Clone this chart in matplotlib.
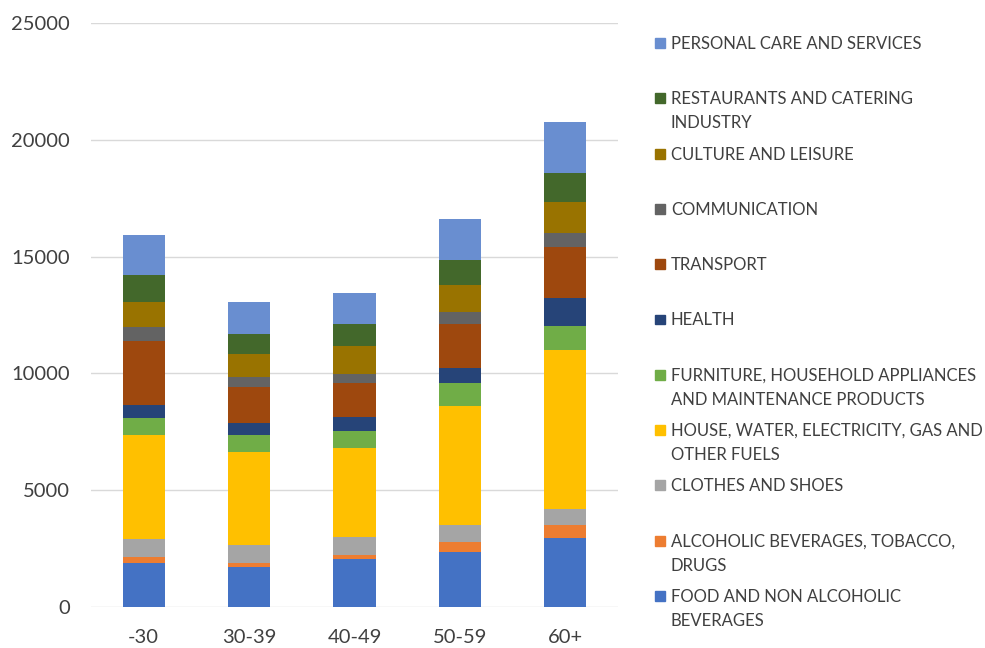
import matplotlib

matplotlib.use("Agg")

import matplotlib.pyplot as plt
import numpy as np
from matplotlib.patches import Rectangle

plt.rcParams["font.family"] = ["Lato", "DejaVu Sans"]

AGE_GROUPS = ["-30", "30-39", "40-49", "50-59", "60+"]

# bottom-to-top stacking order
SERIES = [
    "FOOD AND NON ALCOHOLIC\nBEVERAGES",
    "ALCOHOLIC BEVERAGES, TOBACCO,\nDRUGS",
    "CLOTHES AND SHOES",
    "HOUSE, WATER, ELECTRICITY, GAS AND\nOTHER FUELS",
    "FURNITURE, HOUSEHOLD APPLIANCES\nAND MAINTENANCE PRODUCTS",
    "HEALTH",
    "TRANSPORT",
    "COMMUNICATION",
    "CULTURE AND LEISURE",
    "RESTAURANTS AND CATERING\nINDUSTRY",
    "PERSONAL CARE AND SERVICES",
]
COLORS = ["#4472C4", "#ED7D31", "#A5A5A5", "#FFC000", "#70AD47", "#264478",
          "#9E480E", "#636363", "#997300", "#43682B", "#698ED0"]

food = [1890, 1720, 2060, 2360, 2945]
alcohol = [240, 170, 170, 415, 545]
clothes = [760, 770, 770, 755, 715]
house = [4460, 3980, 3810, 5070, 6805]
furniture = [760, 715, 710, 1000, 1040]
health = [540, 515, 600, 640, 1185]
transport = [2740, 1540, 1455, 1865, 2185]
communication = [600, 445, 405, 530, 610]
culture = [1055, 955, 1180, 1170, 1300]
restaurants = [1170, 885, 955, 1070, 1260]
personal = [1710, 1355, 1330, 1715, 2165]

VALUES = [food, alcohol, clothes, house, furniture, health, transport,
          communication, culture, restaurants, personal]

W, H = 985, 648
fig = plt.figure(figsize=(W / 100, H / 100), dpi=100)
ax = fig.add_axes([91 / W, 1 - 607 / H, (618 - 91) / W, (607 - 23) / H])

x = np.arange(len(AGE_GROUPS))
bottom = np.zeros(len(AGE_GROUPS))
for vals, color in zip(VALUES, COLORS):
    ax.bar(x, vals, width=0.4, bottom=bottom, color=color, zorder=3)
    bottom += np.array(vals)

ax.set_xlim(-0.5, len(AGE_GROUPS) - 0.5)
ax.set_ylim(0, 25000)
ax.set_yticks(range(0, 25001, 5000))
ax.set_xticks(x)
ax.set_xticklabels(AGE_GROUPS)
ax.tick_params(length=0, labelsize=14.5, colors="#404040")
ax.tick_params(axis="y", pad=15)
ax.tick_params(axis="x", pad=16)
ax.grid(axis="y", color="#D9D9D9", linewidth=1, zorder=0)
for s in ax.spines.values():
    s.set_visible(False)

# legend, drawn by hand so the marker lines up with the first text line
for i, (name, color) in enumerate(zip(SERIES[::-1], COLORS[::-1])):
    y_px = 43 + i * 55.3
    fig.patches.append(Rectangle((655 / W, 1 - (y_px + 5) / H), 10 / W, 10 / H,
                                 transform=fig.transFigure, color=color))
    for j, line in enumerate(name.split("\n")):
        fig.text(671 / W, 1 - (y_px + 1 + j * 24) / H, line, fontsize=12,
                 color="#404040", va="center", ha="left")

fig.savefig("out.png", dpi=100)
